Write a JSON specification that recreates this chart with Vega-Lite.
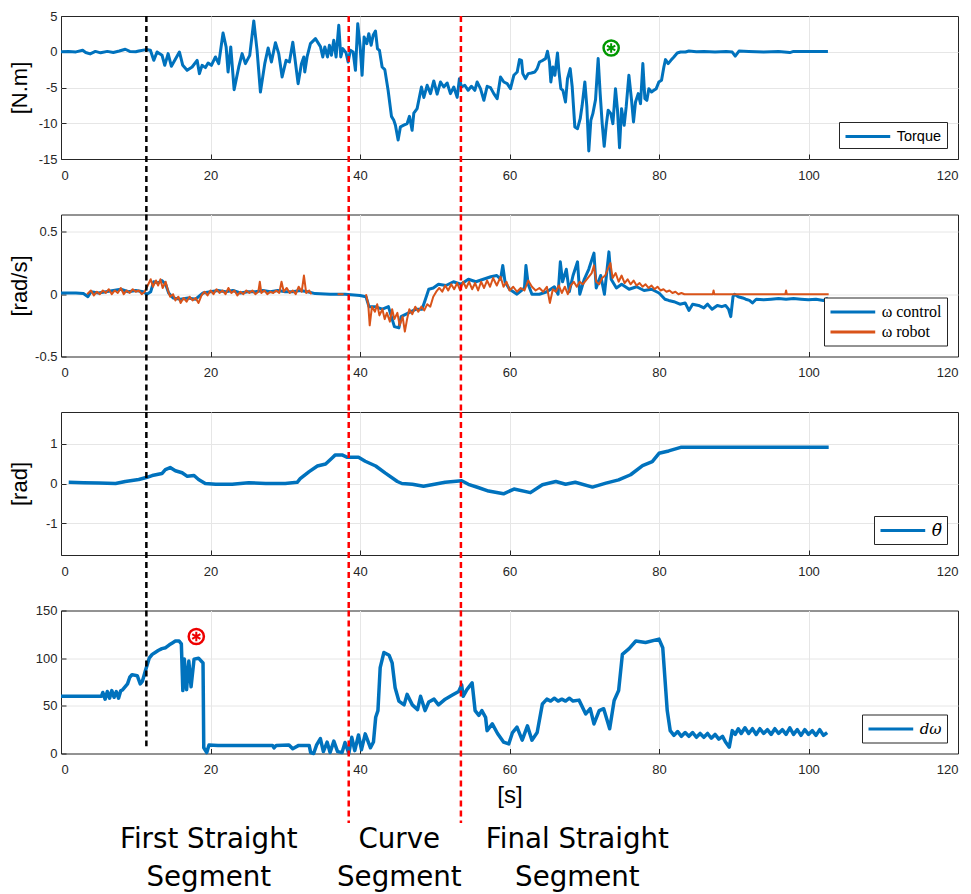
{
  "$schema": "https://vega.github.io/schema/vega-lite/v6.json",
  "padding": {"left": 7, "top": 9, "right": 0, "bottom": 0},
  "bounds": "flush",
  "spacing": 55.5,
  "resolve": {"scale": {"color": "independent"}, "legend": {"color": "independent"}},
  "config": {
    "view": {"stroke": "#262626", "strokeWidth": 1},
    "axis": {
      "labelFont": "Liberation Sans", "labelFontSize": 13, "labelColor": "#262626",
      "labelExpr": "'' + datum.value", "labelOverlap": false, "tickCount": 10,
      "titleFont": "Liberation Sans", "titleFontSize": 22, "titleFontWeight": "normal", "titleColor": "#000000",
      "grid": true, "gridColor": "#e6e6e6", "gridWidth": 1, "domain": false,
      "tickColor": "#262626", "tickSize": -5, "tickWidth": 1
    },
    "axisX": {"labelPadding": 15},
    "axisY": {"labelPadding": 9},
    "legend": {
      "orient": "bottom-right", "offset": 11, "strokeColor": "#262626", "fillColor": "white",
      "padding": 5, "labelFont": "Liberation Sans", "labelFontSize": 14.5, "labelColor": "#000000",
      "symbolType": "M-1,0H4.59", "symbolStrokeWidth": 3, "symbolSize": 256, "labelOffset": 33.7, "rowPadding": 2
    },
    "text": {"font": "DejaVu Sans"}
  },
  "datasets": {
    "torque": [
      {"t":0,"v":0},{"t":1,"v":0.02},{"t":2,"v":-0.02},{"t":2.9,"v":0.2},{"t":3.3,"v":-0.1},{"t":3.9,"v":-0.3},{"t":4.6,"v":0.05},{"t":5.3,"v":-0.15},{"t":6.2,"v":0.05},{"t":7,"v":-0.1},{"t":7.8,"v":0.1},{"t":8.6,"v":0.35},{"t":9.2,"v":0.05},{"t":10,"v":0},{"t":10.4,"v":0.11},{"t":11.38,"v":0.3},{"t":11.96,"v":0.2},{"t":12.41,"v":-1.2},{"t":12.85,"v":-0.03},{"t":13.52,"v":-0.5},{"t":13.88,"v":-1.9},{"t":14.33,"v":-0.26},{"t":14.77,"v":-2.04},{"t":15.22,"v":-1.2},{"t":15.84,"v":-0.03},{"t":16.29,"v":-1.9},{"t":16.87,"v":-2.6},{"t":17.54,"v":-2.13},{"t":18.21,"v":-1.2},{"t":18.52,"v":-3.06},{"t":18.87,"v":-1.9},{"t":19.32,"v":-2.22},{"t":19.68,"v":-1.57},{"t":20.12,"v":-1.9},{"t":20.66,"v":-0.73},{"t":21.1,"v":-1.66},{"t":21.68,"v":2.63},{"t":22.09,"v":0.67},{"t":22.35,"v":-2.83},{"t":22.71,"v":0.67},{"t":23.16,"v":-5.3},{"t":23.78,"v":-2.13},{"t":24.23,"v":-0.26},{"t":24.67,"v":-1.66},{"t":25.25,"v":-0.5},{"t":25.79,"v":4.31},{"t":26.23,"v":0.2},{"t":26.68,"v":-5.63},{"t":27.26,"v":-1.66},{"t":27.71,"v":0.53},{"t":28.15,"v":-1.43},{"t":28.69,"v":1.27},{"t":29.13,"v":-0.26},{"t":29.58,"v":-3.53},{"t":30.11,"v":-1.2},{"t":30.56,"v":-1.43},{"t":31.01,"v":1.32},{"t":31.27,"v":-0.73},{"t":31.72,"v":-4.46},{"t":32.17,"v":-1.66},{"t":32.48,"v":-0.73},{"t":32.61,"v":-2.83},{"t":32.92,"v":-0.73},{"t":33.37,"v":1.13},{"t":34.04,"v":1.83},{"t":34.71,"v":0.72},{"t":35.02,"v":-0.73},{"t":35.29,"v":0.67},{"t":35.65,"v":-0.73},{"t":35.91,"v":0.9},{"t":36.18,"v":-0.5},{"t":36.49,"v":1.6},{"t":36.8,"v":-0.73},{"t":37.16,"v":3.7},{"t":37.43,"v":-0.73},{"t":37.7,"v":0.44},{"t":38.14,"v":-0.17},{"t":38.41,"v":-1.43},{"t":38.72,"v":0.2},{"t":39.08,"v":-0.03},{"t":39.39,"v":-2.6},{"t":39.7,"v":3.93},{"t":40.02,"v":0.67},{"t":40.28,"v":-3.29},{"t":40.55,"v":2.07},{"t":40.91,"v":1.13},{"t":41.18,"v":2.53},{"t":41.49,"v":0.9},{"t":41.76,"v":2.3},{"t":42.07,"v":2.9},{"t":42.34,"v":0.4},{"t":42.6,"v":0.2},{"t":42.96,"v":-2.13},{"t":43.32,"v":-2.5},{"t":43.76,"v":-5.38},{"t":44.21,"v":-9.04},{"t":44.52,"v":-9.59},{"t":44.74,"v":-10.29},{"t":45.1,"v":-12.34},{"t":45.41,"v":-10.5},{"t":45.86,"v":-10.27},{"t":46.31,"v":-10.04},{"t":46.62,"v":-9.03},{"t":46.97,"v":-10.99},{"t":47.2,"v":-8.59},{"t":47.64,"v":-7.96},{"t":48.22,"v":-4.94},{"t":48.54,"v":-6.39},{"t":48.98,"v":-4.69},{"t":49.43,"v":-5.86},{"t":49.87,"v":-4.09},{"t":50.32,"v":-5.93},{"t":50.77,"v":-4.23},{"t":51.21,"v":-4.93},{"t":51.66,"v":-4.37},{"t":52.1,"v":-5.86},{"t":52.55,"v":-4.93},{"t":53.0,"v":-6.38},{"t":53.3,"v":-3.76},{"t":53.58,"v":-4.93},{"t":54.02,"v":-4.69},{"t":54.47,"v":-5.39},{"t":54.91,"v":-4.83},{"t":55.36,"v":-5.39},{"t":55.67,"v":-4.23},{"t":56.12,"v":-5.16},{"t":56.57,"v":-6.79},{"t":57.01,"v":-4.83},{"t":57.46,"v":-5.02},{"t":57.9,"v":-5.86},{"t":58.35,"v":-6.56},{"t":58.8,"v":-3.53},{"t":59.24,"v":-4.23},{"t":59.69,"v":-4.46},{"t":60.13,"v":-5.16},{"t":60.58,"v":-3.29},{"t":61.03,"v":-2.83},{"t":61.34,"v":-1.1},{"t":61.61,"v":-1.2},{"t":61.78,"v":-3.06},{"t":62.14,"v":-3.76},{"t":62.5,"v":-3.06},{"t":62.94,"v":-2.97},{"t":63.39,"v":-2.83},{"t":63.7,"v":-2.36},{"t":64.01,"v":-1.43},{"t":64.46,"v":-1.2},{"t":64.82,"v":-0.96},{"t":65.08,"v":0.06},{"t":65.35,"v":-1.43},{"t":65.53,"v":-4.23},{"t":65.8,"v":-2.13},{"t":66.07,"v":-3.29},{"t":66.42,"v":-0.17},{"t":66.6,"v":-2.6},{"t":66.87,"v":-5.16},{"t":67.14,"v":-5.39},{"t":67.49,"v":-7.02},{"t":67.76,"v":-3.76},{"t":68.12,"v":-2.36},{"t":68.39,"v":-4.93},{"t":68.74,"v":-10.52},{"t":69.1,"v":-10.75},{"t":69.46,"v":-9.36},{"t":69.72,"v":-7.49},{"t":70.08,"v":-4.23},{"t":70.35,"v":-7.72},{"t":70.61,"v":-13.88},{"t":70.88,"v":-9.59},{"t":71.15,"v":-8.66},{"t":71.51,"v":-6.7},{"t":71.86,"v":-0.96},{"t":72.13,"v":-5.86},{"t":72.4,"v":-10.05},{"t":72.67,"v":-13.22},{"t":72.94,"v":-10.29},{"t":73.2,"v":-8.19},{"t":73.56,"v":-8.66},{"t":73.83,"v":-10.05},{"t":74.18,"v":-5.16},{"t":74.45,"v":-8.19},{"t":74.72,"v":-13.41},{"t":74.99,"v":-7.96},{"t":75.34,"v":-10.29},{"t":75.61,"v":-7.72},{"t":75.97,"v":-3.29},{"t":76.33,"v":-6.79},{"t":76.59,"v":-9.82},{"t":76.86,"v":-7.02},{"t":77.22,"v":-5.86},{"t":77.53,"v":-7.26},{"t":77.84,"v":-1.66},{"t":78.11,"v":-6.56},{"t":78.38,"v":-6.79},{"t":78.64,"v":-5.16},{"t":79.0,"v":-5.62},{"t":79.31,"v":-5.39},{"t":79.63,"v":-5.16},{"t":79.98,"v":-4.23},{"t":80.34,"v":-3.99},{"t":80.65,"v":-2.13},{"t":80.87,"v":-1.1},{"t":81.23,"v":-1.66},{"t":81.59,"v":-1.2},{"t":81.99,"v":-0.73},{"t":82.44,"v":-0.17},{"t":82.88,"v":-0.03},{"t":83.55,"v":-0.03},{"t":84.0,"v":0.11},{"t":85,"v":0.0},{"t":86,"v":0.05},{"t":87.5,"v":-0.05},{"t":89,"v":0.05},{"t":89.8,"v":-0.05},{"t":90.2,"v":-0.6},{"t":90.7,"v":0.1},{"t":92,"v":0.05},{"t":94,"v":-0.05},{"t":96,"v":0.05},{"t":97.5,"v":-0.12},{"t":98,"v":0.05},{"t":100,"v":0.03},{"t":102.6,"v":0.05}
    ],
    "wcontrol": [
      {"t":0,"v":0.01},{"t":1,"v":0.01},{"t":2,"v":0.01},{"t":3,"v":0.005},{"t":3.6,"v":-0.02},{"t":4,"v":0.02},{"t":5,"v":0.01},{"t":6,"v":0.02},{"t":7,"v":0.03},{"t":8,"v":0.04},{"t":9,"v":0.02},{"t":10,"v":0.03},{"t":11,"v":0.02},{"t":11.5,"v":0.0},{"t":12,"v":0.02},{"t":12.4,"v":0.1},{"t":13,"v":0.09},{"t":13.5,"v":0.11},{"t":14,"v":0.08},{"t":14.4,"v":0.01},{"t":15,"v":-0.03},{"t":16,"v":-0.04},{"t":17,"v":-0.03},{"t":18,"v":-0.04},{"t":19,"v":0.01},{"t":20,"v":0.02},{"t":21,"v":0.03},{"t":22,"v":0.02},{"t":23,"v":0.03},{"t":24,"v":0.01},{"t":25,"v":0.02},{"t":26,"v":0.02},{"t":27,"v":0.03},{"t":28,"v":0.02},{"t":29,"v":0.03},{"t":30,"v":0.02},{"t":31,"v":0.02},{"t":32,"v":0.03},{"t":33,"v":0.02},{"t":34,"v":0.005},{"t":36,"v":0.0},{"t":38,"v":0.0},{"t":40,"v":-0.01},{"t":40.8,"v":-0.02},{"t":41.2,"v":-0.1},{"t":42,"v":-0.1},{"t":43,"v":-0.12},{"t":43.8,"v":-0.1},{"t":44.3,"v":-0.2},{"t":44.6,"v":-0.26},{"t":45.2,"v":-0.27},{"t":45.5,"v":-0.18},{"t":46.5,"v":-0.15},{"t":47.5,"v":-0.12},{"t":48.3,"v":-0.12},{"t":48.7,"v":-0.05},{"t":49.2,"v":0.04},{"t":49.8,"v":0.05},{"t":50.5,"v":0.08},{"t":51.5,"v":0.07},{"t":52.5,"v":0.1},{"t":53.5,"v":0.08},{"t":54.5,"v":0.12},{"t":55.5,"v":0.1},{"t":56.5,"v":0.12},{"t":57.5,"v":0.14},{"t":58.3,"v":0.15},{"t":58.8,"v":0.12},{"t":59.1,"v":0.23},{"t":59.4,"v":0.1},{"t":60,"v":0.04},{"t":61,"v":0.0},{"t":62,"v":0.05},{"t":62.2,"v":0.23},{"t":62.5,"v":0.08},{"t":63,"v":0.0},{"t":64,"v":0.0},{"t":65,"v":0.02},{"t":66,"v":0.06},{"t":66.5,"v":0.0},{"t":66.8,"v":0.26},{"t":67.1,"v":0.1},{"t":67.6,"v":0.2},{"t":68,"v":0.02},{"t":68.5,"v":0.15},{"t":69.1,"v":0.26},{"t":69.4,"v":0.0},{"t":70,"v":0.12},{"t":70.6,"v":0.2},{"t":71.3,"v":0.33},{"t":71.6,"v":0.05},{"t":72.2,"v":0.15},{"t":72.7,"v":0.0},{"t":73.3,"v":0.34},{"t":73.6,"v":0.12},{"t":74.3,"v":0.05},{"t":75,"v":0.08},{"t":76,"v":0.04},{"t":77,"v":0.06},{"t":78,"v":0.03},{"t":79,"v":0.04},{"t":80,"v":0.01},{"t":80.8,"v":-0.04},{"t":81.3,"v":-0.05},{"t":82,"v":-0.06},{"t":82.8,"v":-0.08},{"t":83.5,"v":-0.07},{"t":84,"v":-0.13},{"t":84.5,"v":-0.08},{"t":85.3,"v":-0.09},{"t":86,"v":-0.11},{"t":86.5,"v":-0.08},{"t":87.1,"v":-0.12},{"t":87.8,"v":-0.09},{"t":88.4,"v":-0.1},{"t":88.9,"v":-0.09},{"t":89.3,"v":-0.12},{"t":89.6,"v":-0.18},{"t":89.9,"v":-0.02},{"t":90.1,"v":0.0},{"t":90.6,"v":-0.02},{"t":91.2,"v":-0.03},{"t":91.6,"v":-0.04},{"t":92.1,"v":-0.05},{"t":92.5,"v":-0.07},{"t":93,"v":-0.04},{"t":94,"v":-0.045},{"t":95,"v":-0.04},{"t":96,"v":-0.035},{"t":97,"v":-0.04},{"t":98,"v":-0.035},{"t":99,"v":-0.04},{"t":100,"v":-0.045},{"t":101,"v":-0.04},{"t":102,"v":-0.05},{"t":102.6,"v":-0.03}
    ],
    "wrobot": [
      {"s":"a","t":3.5,"v":0.0},{"s":"a","t":4,"v":0.03},{"s":"a","t":4.4,"v":-0.01},{"s":"a","t":4.8,"v":0.02},{"s":"a","t":5.2,"v":0.0},{"s":"a","t":5.6,"v":0.03},{"s":"a","t":6,"v":0.01},{"s":"a","t":6.4,"v":0.04},{"s":"a","t":6.8,"v":0.0},{"s":"a","t":7.2,"v":0.03},{"s":"a","t":7.6,"v":0.01},{"s":"a","t":8,"v":0.05},{"s":"a","t":8.4,"v":0.0},{"s":"a","t":8.8,"v":0.03},{"s":"a","t":9.2,"v":0.01},{"s":"a","t":9.6,"v":0.04},{"s":"a","t":10,"v":0.02},{"s":"a","t":10.4,"v":0.03},{"s":"a","t":10.8,"v":0.0},{"s":"a","t":11.2,"v":0.02},{"s":"a","t":11.6,"v":0.07},{"s":"a","t":12,"v":0.12},{"s":"a","t":12.3,"v":0.06},{"s":"a","t":12.7,"v":0.11},{"s":"a","t":13,"v":0.07},{"s":"a","t":13.3,"v":0.12},{"s":"a","t":13.6,"v":0.05},{"s":"a","t":14,"v":0.1},{"s":"a","t":14.3,"v":0.03},{"s":"a","t":14.6,"v":-0.02},{"s":"a","t":15,"v":0.0},{"s":"a","t":15.3,"v":-0.05},{"s":"a","t":15.7,"v":-0.02},{"s":"a","t":16,"v":-0.07},{"s":"a","t":16.4,"v":-0.03},{"s":"a","t":16.8,"v":-0.06},{"s":"a","t":17.2,"v":-0.02},{"s":"a","t":17.6,"v":-0.05},{"s":"a","t":18,"v":-0.03},{"s":"a","t":18.4,"v":-0.07},{"s":"a","t":18.8,"v":-0.01},{"s":"a","t":19.2,"v":0.02},{"s":"a","t":19.6,"v":-0.01},{"s":"a","t":20,"v":0.03},{"s":"a","t":20.4,"v":0.0},{"s":"a","t":20.8,"v":0.04},{"s":"a","t":21.2,"v":0.01},{"s":"a","t":21.6,"v":0.03},{"s":"a","t":22,"v":0.0},{"s":"a","t":22.4,"v":0.05},{"s":"a","t":22.8,"v":0.01},{"s":"a","t":23.2,"v":0.03},{"s":"a","t":23.6,"v":-0.01},{"s":"a","t":24,"v":0.02},{"s":"a","t":24.4,"v":0.0},{"s":"a","t":24.8,"v":0.03},{"s":"a","t":25.2,"v":0.01},{"s":"a","t":25.6,"v":0.03},{"s":"a","t":26,"v":0.0},{"s":"a","t":26.4,"v":0.02},{"s":"a","t":26.6,"v":0.1},{"s":"a","t":26.8,"v":0.01},{"s":"a","t":27.2,"v":0.03},{"s":"a","t":27.6,"v":0.0},{"s":"a","t":28,"v":0.02},{"s":"a","t":28.4,"v":0.01},{"s":"a","t":28.8,"v":0.03},{"s":"a","t":29.2,"v":0.01},{"s":"a","t":29.5,"v":0.1},{"s":"a","t":29.8,"v":0.02},{"s":"a","t":30.2,"v":0.05},{"s":"a","t":30.6,"v":0.01},{"s":"a","t":31,"v":0.03},{"s":"a","t":31.4,"v":0.0},{"s":"a","t":31.8,"v":0.06},{"s":"a","t":32.2,"v":0.02},{"s":"a","t":32.5,"v":0.15},{"s":"a","t":32.8,"v":0.01},{"s":"a","t":33.2,"v":0.03},{"s":"a","t":33.5,"v":0.0},
      {"s":"b","t":37.0,"v":0.0},{"s":"b","t":37.8,"v":0.0},
      {"s":"c","t":40.8,"v":0.0},{"s":"c","t":41.1,"v":-0.08},{"s":"c","t":41.3,"v":-0.25},{"s":"c","t":41.6,"v":-0.1},{"s":"c","t":42,"v":-0.14},{"s":"c","t":42.3,"v":-0.08},{"s":"c","t":42.6,"v":-0.17},{"s":"c","t":43,"v":-0.12},{"s":"c","t":43.3,"v":-0.2},{"s":"c","t":43.6,"v":-0.15},{"s":"c","t":44,"v":-0.22},{"s":"c","t":44.3,"v":-0.12},{"s":"c","t":44.6,"v":-0.2},{"s":"c","t":45,"v":-0.15},{"s":"c","t":45.3,"v":-0.25},{"s":"c","t":45.7,"v":-0.18},{"s":"c","t":46,"v":-0.3},{"s":"c","t":46.3,"v":-0.2},{"s":"c","t":46.6,"v":-0.12},{"s":"c","t":47,"v":-0.16},{"s":"c","t":47.4,"v":-0.1},{"s":"c","t":47.8,"v":-0.14},{"s":"c","t":48.2,"v":-0.1},{"s":"c","t":48.6,"v":-0.13},{"s":"c","t":49,"v":-0.08},{"s":"c","t":49.4,"v":-0.1},{"s":"c","t":49.8,"v":-0.02},{"s":"c","t":50.2,"v":0.02},{"s":"c","t":50.6,"v":0.05},{"s":"c","t":51,"v":0.02},{"s":"c","t":51.4,"v":0.07},{"s":"c","t":51.8,"v":0.03},{"s":"c","t":52.2,"v":0.08},{"s":"c","t":52.6,"v":0.04},{"s":"c","t":53,"v":0.09},{"s":"c","t":53.4,"v":0.03},{"s":"c","t":53.8,"v":0.1},{"s":"c","t":54.2,"v":0.05},{"s":"c","t":54.6,"v":0.1},{"s":"c","t":55,"v":0.04},{"s":"c","t":55.4,"v":0.09},{"s":"c","t":55.8,"v":0.03},{"s":"c","t":56.2,"v":0.1},{"s":"c","t":56.6,"v":0.05},{"s":"c","t":57,"v":0.11},{"s":"c","t":57.4,"v":0.06},{"s":"c","t":57.8,"v":0.13},{"s":"c","t":58.3,"v":0.07},{"s":"c","t":58.8,"v":0.14},{"s":"c","t":59.2,"v":0.06},{"s":"c","t":59.6,"v":0.1},{"s":"c","t":60,"v":0.03},{"s":"c","t":60.5,"v":0.06},{"s":"c","t":61,"v":0.02},{"s":"c","t":61.5,"v":0.05},{"s":"c","t":62,"v":0.03},{"s":"c","t":62.5,"v":0.11},{"s":"c","t":63,"v":0.06},{"s":"c","t":63.5,"v":0.03},{"s":"c","t":64,"v":0.05},{"s":"c","t":64.5,"v":0.02},{"s":"c","t":65,"v":0.06},{"s":"c","t":65.4,"v":-0.07},{"s":"c","t":65.8,"v":0.04},{"s":"c","t":66.2,"v":0.02},{"s":"c","t":66.6,"v":0.07},{"s":"c","t":67,"v":0.01},{"s":"c","t":67.4,"v":0.06},{"s":"c","t":67.8,"v":0.0},{"s":"c","t":68.2,"v":0.07},{"s":"c","t":68.6,"v":0.1},{"s":"c","t":69,"v":0.06},{"s":"c","t":69.4,"v":0.1},{"s":"c","t":69.8,"v":0.08},{"s":"c","t":70.2,"v":0.11},{"s":"c","t":70.6,"v":0.14},{"s":"c","t":71,"v":0.17},{"s":"c","t":71.3,"v":0.23},{"s":"c","t":71.6,"v":0.1},{"s":"c","t":72,"v":0.08},{"s":"c","t":72.4,"v":0.13},{"s":"c","t":72.8,"v":0.15},{"s":"c","t":73.2,"v":0.21},{"s":"c","t":73.5,"v":0.25},{"s":"c","t":73.8,"v":0.13},{"s":"c","t":74.2,"v":0.17},{"s":"c","t":74.6,"v":0.1},{"s":"c","t":75,"v":0.15},{"s":"c","t":75.4,"v":0.09},{"s":"c","t":75.8,"v":0.12},{"s":"c","t":76.2,"v":0.08},{"s":"c","t":76.6,"v":0.11},{"s":"c","t":77,"v":0.07},{"s":"c","t":77.4,"v":0.09},{"s":"c","t":77.8,"v":0.06},{"s":"c","t":78.2,"v":0.08},{"s":"c","t":78.6,"v":0.05},{"s":"c","t":79,"v":0.07},{"s":"c","t":79.4,"v":0.04},{"s":"c","t":79.8,"v":0.06},{"s":"c","t":80.2,"v":0.03},{"s":"c","t":80.6,"v":0.04},{"s":"c","t":81,"v":0.02},{"s":"c","t":81.4,"v":0.03},{"s":"c","t":81.8,"v":0.01},{"s":"c","t":82.2,"v":0.02},{"s":"c","t":82.6,"v":0.0},{"s":"c","t":83,"v":0.01},{"s":"c","t":83.4,"v":0.0},{"s":"c","t":87.2,"v":0.0},{"s":"c","t":87.3,"v":0.03},{"s":"c","t":87.4,"v":0.0},{"s":"c","t":96.9,"v":0.0},{"s":"c","t":97,"v":0.03},{"s":"c","t":97.1,"v":0.0},{"s":"c","t":102.7,"v":0.0}
    ],
    "theta": [
      {"t":1.03,"v":0.03},{"t":3,"v":0.02},{"t":5.05,"v":0.01},{"t":7.3,"v":0.0},{"t":8.6,"v":0.05},{"t":10.4,"v":0.1},{"t":11.4,"v":0.15},{"t":12.2,"v":0.2},{"t":13.5,"v":0.25},{"t":13.96,"v":0.35},{"t":14.6,"v":0.4},{"t":15.3,"v":0.32},{"t":16.2,"v":0.27},{"t":16.9,"v":0.18},{"t":17.8,"v":0.2},{"t":18.4,"v":0.1},{"t":19.3,"v":0.0},{"t":20.7,"v":-0.02},{"t":22.9,"v":-0.02},{"t":25.1,"v":0.02},{"t":27.4,"v":0.0},{"t":30,"v":0.0},{"t":31.6,"v":0.03},{"t":32.0,"v":0.12},{"t":33.2,"v":0.3},{"t":34.3,"v":0.44},{"t":35.4,"v":0.49},{"t":36.3,"v":0.65},{"t":36.7,"v":0.72},{"t":37.6,"v":0.72},{"t":38.3,"v":0.66},{"t":39.8,"v":0.66},{"t":40.7,"v":0.56},{"t":42.1,"v":0.44},{"t":43.4,"v":0.26},{"t":45.0,"v":0.05},{"t":45.6,"v":0.0},{"t":47.0,"v":-0.02},{"t":48.5,"v":-0.07},{"t":49.6,"v":-0.03},{"t":51.4,"v":0.03},{"t":53.6,"v":0.07},{"t":54.5,"v":-0.02},{"t":55.8,"v":-0.1},{"t":57.2,"v":-0.19},{"t":59.2,"v":-0.26},{"t":60.6,"v":-0.14},{"t":62.8,"v":-0.23},{"t":64.4,"v":-0.03},{"t":66.2,"v":0.05},{"t":67.5,"v":-0.02},{"t":68.8,"v":0.03},{"t":71.1,"v":-0.09},{"t":72.9,"v":0.01},{"t":74.6,"v":0.09},{"t":76.2,"v":0.22},{"t":77.8,"v":0.45},{"t":79.1,"v":0.55},{"t":80.0,"v":0.76},{"t":81.3,"v":0.82},{"t":82.9,"v":0.91},{"t":102.7,"v":0.91}
    ],
    "dw": [
      {"t":0,"v":60},{"t":5.4,"v":60},{"t":5.6,"v":64},{"t":5.9,"v":57},{"t":6.2,"v":65},{"t":6.5,"v":58},{"t":6.8,"v":66},{"t":7.1,"v":59},{"t":7.4,"v":65},{"t":7.7,"v":58},{"t":8.0,"v":66},{"t":8.2,"v":66.5},{"t":8.9,"v":73},{"t":9.2,"v":80},{"t":9.5,"v":82.7},{"t":10.2,"v":81.6},{"t":10.6,"v":73},{"t":10.9,"v":76},{"t":11.3,"v":87},{"t":11.8,"v":100},{"t":12.2,"v":104},{"t":12.6,"v":106},{"t":13.0,"v":108},{"t":13.5,"v":110},{"t":14,"v":111},{"t":14.5,"v":114},{"t":14.9,"v":116},{"t":15.3,"v":118},{"t":15.8,"v":118},{"t":16.1,"v":115},{"t":16.3,"v":66},{"t":16.5,"v":99},{"t":16.8,"v":67},{"t":17.1,"v":97},{"t":17.4,"v":70},{"t":17.8,"v":99},{"t":18.4,"v":100},{"t":19.0,"v":95},{"t":19.1,"v":6},{"t":19.5,"v":1},{"t":19.8,"v":9},{"t":21,"v":8.5},{"t":28.3,"v":8.5},{"t":28.5,"v":5.8},{"t":28.8,"v":8.5},{"t":30.5,"v":9},{"t":31,"v":5},{"t":31.8,"v":8.5},{"t":33.2,"v":8.5},{"t":33.4,"v":1},{"t":33.8,"v":0},{"t":34.2,"v":9},{"t":34.7,"v":15.7},{"t":35.1,"v":2},{"t":35.6,"v":12},{"t":36,"v":1},{"t":36.5,"v":13},{"t":37,"v":2},{"t":37.6,"v":1},{"t":38,"v":11.5},{"t":38.5,"v":0},{"t":38.9,"v":17},{"t":39.3,"v":3},{"t":39.8,"v":19.5},{"t":40.2,"v":4},{"t":40.7,"v":20.6},{"t":41.4,"v":6},{"t":41.8,"v":12},{"t":42.1,"v":38},{"t":42.4,"v":45},{"t":42.7,"v":90},{"t":43.2,"v":106},{"t":43.9,"v":103},{"t":44.3,"v":95},{"t":44.7,"v":69},{"t":45.2,"v":55},{"t":45.9,"v":51},{"t":46.3,"v":62},{"t":47.0,"v":51},{"t":47.7,"v":46},{"t":48.1,"v":60},{"t":48.7,"v":45},{"t":49.2,"v":54},{"t":49.9,"v":57},{"t":50.5,"v":51},{"t":51.4,"v":57},{"t":52.3,"v":61},{"t":53.2,"v":65},{"t":53.6,"v":72},{"t":53.8,"v":60},{"t":54.3,"v":67},{"t":55.0,"v":74},{"t":55.4,"v":45},{"t":55.9,"v":40},{"t":56.3,"v":45},{"t":56.8,"v":38},{"t":57.0,"v":24},{"t":57.7,"v":31},{"t":58.4,"v":21},{"t":59.2,"v":12},{"t":59.9,"v":10},{"t":60.4,"v":22},{"t":61.0,"v":27.6},{"t":61.7,"v":14},{"t":62.4,"v":29},{"t":63.0,"v":14},{"t":63.7,"v":22},{"t":64.4,"v":52},{"t":65.0,"v":57},{"t":65.5,"v":55},{"t":66,"v":58},{"t":66.5,"v":55},{"t":67.0,"v":57},{"t":67.5,"v":55},{"t":68,"v":58},{"t":68.5,"v":55},{"t":69.3,"v":56},{"t":70.2,"v":41.5},{"t":70.8,"v":47},{"t":71.3,"v":31},{"t":72.0,"v":45},{"t":72.6,"v":47},{"t":73.4,"v":26},{"t":74.0,"v":55.5},{"t":74.6,"v":66},{"t":75.1,"v":104},{"t":76.0,"v":110},{"t":76.9,"v":118},{"t":78.2,"v":116.5},{"t":80.0,"v":120},{"t":80.5,"v":111},{"t":81.1,"v":45},{"t":81.5,"v":24},{"t":82,"v":19},{"t":82.5,"v":23},{"t":83,"v":18},{"t":83.5,"v":22},{"t":84,"v":18},{"t":84.5,"v":22},{"t":85,"v":17},{"t":85.5,"v":21},{"t":86,"v":17},{"t":86.5,"v":21},{"t":87,"v":16},{"t":87.5,"v":20},{"t":88,"v":15},{"t":88.5,"v":18},{"t":88.9,"v":12},{"t":89.4,"v":6.6},{"t":89.8,"v":24},{"t":90.2,"v":20},{"t":90.6,"v":26},{"t":91,"v":21},{"t":91.5,"v":27},{"t":92,"v":21},{"t":92.5,"v":26},{"t":93,"v":20},{"t":93.5,"v":26},{"t":94,"v":21},{"t":94.5,"v":25},{"t":95,"v":20},{"t":95.5,"v":26},{"t":96,"v":21},{"t":96.5,"v":25},{"t":97,"v":20},{"t":97.5,"v":27},{"t":98,"v":20},{"t":98.5,"v":25},{"t":99,"v":19},{"t":99.5,"v":25},{"t":100,"v":20},{"t":100.5,"v":24},{"t":101,"v":19},{"t":101.5,"v":25},{"t":102,"v":19},{"t":102.5,"v":22}
    ],
    "blackline": [{"t": 11.42}],
    "redlines": [{"t": 38.49}, {"t": 53.5}],
    "segments": [
      {"t": 19.77, "label": "First Straight\nSegment"},
      {"t": 45.26, "label": "Curve\nSegment"},
      {"t": 69.08, "label": "Final Straight\nSegment"}
    ],
    "mark1": [{"t": 73.6, "v": 0.52}],
    "mark4": [{"t": 18.1, "v": 122.7}]
  },
  "vconcat": [
    {
      "width": 897, "height": 143,
      "layer": [
        {
          "data": {"name": "torque"},
          "mark": {"type": "line", "strokeWidth": 3, "strokeJoin": "round"},
          "encoding": {
            "x": {"field": "t", "type": "quantitative", "scale": {"domain": [0, 120], "nice": false}, "axis": {"values": [0, 20, 40, 60, 80, 100, 120], "title": null, "gridOpacity": {"condition": {"test": "datum.value === 0 || datum.value === 120", "value": 0}, "value": 1}}},
            "y": {"field": "v", "type": "quantitative", "scale": {"domain": [-15, 5], "nice": false}, "axis": {"values": [-15, -10, -5, 0, 5], "tickCount": 10, "title": "[N.m]", "titlePadding": 7, "gridOpacity": {"condition": {"test": "datum.value === 5 || datum.value === -15", "value": 0}, "value": 1}}},
            "color": {"datum": "Torque", "scale": {"domain": ["Torque"], "range": ["#0072BD"]}, "legend": {"title": null}}
          }
        },
        {
          "data": {"name": "blackline"},
          "mark": {"type": "rule", "color": "#000000", "strokeWidth": 2.5, "strokeDash": [6, 4]},
          "encoding": {
            "x": {"field": "t", "type": "quantitative"},
            "y": {"datum": 5, "type": "quantitative"},
            "y2": {"datum": -22.76}
          }
        },
        {
          "data": {"name": "redlines"},
          "mark": {"type": "rule", "color": "#FF0000", "strokeWidth": 2.5, "strokeDash": [6, 4]},
          "encoding": {
            "x": {"field": "t", "type": "quantitative"},
            "y": {"datum": 5, "type": "quantitative"},
            "y2": {"datum": -22.76}
          }
        },
        {
          "data": {"name": "mark1"},
          "mark": {"type": "point", "shape": "circle", "filled": false, "size": 230, "strokeWidth": 2.5, "color": "#009900", "opacity": 1},
          "encoding": {"x": {"field": "t", "type": "quantitative"}, "y": {"field": "v", "type": "quantitative"}}
        },
        {
          "data": {"name": "mark1"},
          "mark": {"type": "point", "shape": "M0,-1L0,1M-0.866,-0.5L0.866,0.5M-0.866,0.5L0.866,-0.5", "filled": false, "size": 90, "strokeWidth": 2, "color": "#009900", "opacity": 1},
          "encoding": {"x": {"field": "t", "type": "quantitative"}, "y": {"field": "v", "type": "quantitative"}}
        }
      ]
    },
    {
      "width": 897, "height": 142,
      "layer": [
        {
          "data": {"name": "wcontrol"},
          "mark": {"type": "line", "strokeWidth": 3, "strokeJoin": "round"},
          "encoding": {
            "x": {"field": "t", "type": "quantitative", "scale": {"domain": [0, 120], "nice": false}, "axis": {"values": [0, 20, 40, 60, 80, 100, 120], "title": null, "gridOpacity": {"condition": {"test": "datum.value === 0 || datum.value === 120", "value": 0}, "value": 1}}},
            "y": {"field": "v", "type": "quantitative", "scale": {"domain": [-0.5, 0.64], "nice": false}, "axis": {"values": [-0.5, 0, 0.5], "title": "[rad/s]", "titlePadding": 3, "gridOpacity": {"condition": {"test": "datum.value === -0.5", "value": 0}, "value": 1}}},
            "color": {"datum": "ω control", "scale": {"domain": ["ω control", "ω robot"], "range": ["#0072BD", "#D95319"]}, "legend": {"title": null, "labelFont": "Liberation Serif", "labelFontSize": 16}}
          }
        },
        {
          "data": {"name": "wrobot"},
          "mark": {"type": "line", "strokeWidth": 2, "strokeJoin": "round"},
          "encoding": {
            "x": {"field": "t", "type": "quantitative"},
            "y": {"field": "v", "type": "quantitative"},
            "detail": {"field": "s", "type": "nominal"},
            "color": {"datum": "ω robot"}
          }
        },
        {
          "data": {"name": "blackline"},
          "mark": {"type": "rule", "color": "#000000", "strokeWidth": 2.5, "strokeDash": [6, 4]},
          "encoding": {
            "x": {"field": "t", "type": "quantitative"},
            "y": {"datum": 0.64, "type": "quantitative"},
            "y2": {"datum": -0.9456}
          }
        },
        {
          "data": {"name": "redlines"},
          "mark": {"type": "rule", "color": "#FF0000", "strokeWidth": 2.5, "strokeDash": [6, 4]},
          "encoding": {
            "x": {"field": "t", "type": "quantitative"},
            "y": {"datum": 0.64, "type": "quantitative"},
            "y2": {"datum": -0.9456}
          }
        }
      ]
    },
    {
      "width": 897, "height": 143,
      "layer": [
        {
          "data": {"name": "theta"},
          "mark": {"type": "line", "strokeWidth": 3.5, "strokeJoin": "round"},
          "encoding": {
            "x": {"field": "t", "type": "quantitative", "scale": {"domain": [0, 120], "nice": false}, "axis": {"values": [0, 20, 40, 60, 80, 100, 120], "title": null, "gridOpacity": {"condition": {"test": "datum.value === 0 || datum.value === 120", "value": 0}, "value": 1}}},
            "y": {"field": "v", "type": "quantitative", "scale": {"domain": [-1.8, 1.8], "nice": false}, "axis": {"values": [-1, 0, 1], "title": "[rad]", "titlePadding": 14}},
            "color": {"datum": "θ̃", "scale": {"domain": ["θ̃"], "range": ["#0072BD"]}, "legend": {"title": null, "labelFont": "DejaVu Serif", "labelFontSize": 17, "labelFontStyle": "italic"}}
          }
        },
        {
          "data": {"name": "blackline"},
          "mark": {"type": "rule", "color": "#000000", "strokeWidth": 2.5, "strokeDash": [6, 4]},
          "encoding": {
            "x": {"field": "t", "type": "quantitative"},
            "y": {"datum": 1.8, "type": "quantitative"},
            "y2": {"datum": -3.197}
          }
        },
        {
          "data": {"name": "redlines"},
          "mark": {"type": "rule", "color": "#FF0000", "strokeWidth": 2.5, "strokeDash": [6, 4]},
          "encoding": {
            "x": {"field": "t", "type": "quantitative"},
            "y": {"datum": 1.8, "type": "quantitative"},
            "y2": {"datum": -3.197}
          }
        }
      ]
    },
    {
      "width": 897, "height": 143,
      "layer": [
        {
          "data": {"name": "dw"},
          "mark": {"type": "line", "strokeWidth": 3.5, "strokeJoin": "round"},
          "encoding": {
            "x": {"field": "t", "type": "quantitative", "scale": {"domain": [0, 120], "nice": false}, "axis": {"values": [0, 20, 40, 60, 80, 100, 120], "title": "[s]", "titleFontSize": 24, "titlePadding": 7, "gridOpacity": {"condition": {"test": "datum.value === 0 || datum.value === 120", "value": 0}, "value": 1}}},
            "y": {"field": "v", "type": "quantitative", "scale": {"domain": [0, 150], "nice": false}, "axis": {"values": [0, 50, 100, 150], "title": null, "gridOpacity": {"condition": {"test": "datum.value === 0 || datum.value === 150", "value": 0}, "value": 1}}},
            "color": {"datum": "dω", "scale": {"domain": ["dω"], "range": ["#0072BD"]}, "legend": {"title": null, "labelFont": "DejaVu Serif", "labelFontSize": 15, "labelFontStyle": "italic"}}
          }
        },
        {
          "data": {"name": "blackline"},
          "mark": {"type": "rule", "color": "#000000", "strokeWidth": 2.5, "strokeDash": [6, 4]},
          "encoding": {
            "x": {"field": "t", "type": "quantitative"},
            "y": {"datum": 150, "type": "quantitative"},
            "y2": {"datum": 7.66}
          }
        },
        {
          "data": {"name": "redlines"},
          "mark": {"type": "rule", "color": "#FF0000", "strokeWidth": 2.5, "strokeDash": [6, 4]},
          "encoding": {
            "x": {"field": "t", "type": "quantitative"},
            "y": {"datum": 150, "type": "quantitative"},
            "y2": {"datum": -72.9}
          }
        },
        {
          "data": {"name": "mark4"},
          "mark": {"type": "point", "shape": "circle", "filled": false, "size": 230, "strokeWidth": 2.5, "color": "#EE0000", "opacity": 1},
          "encoding": {"x": {"field": "t", "type": "quantitative"}, "y": {"field": "v", "type": "quantitative"}}
        },
        {
          "data": {"name": "mark4"},
          "mark": {"type": "point", "shape": "M0,-1L0,1M-0.866,-0.5L0.866,0.5M-0.866,0.5L0.866,-0.5", "filled": false, "size": 90, "strokeWidth": 2, "color": "#EE0000", "opacity": 1},
          "encoding": {"x": {"field": "t", "type": "quantitative"}, "y": {"field": "v", "type": "quantitative"}}
        },
        {
          "data": {"name": "segments"},
          "mark": {"type": "text", "font": "DejaVu Sans", "fontSize": 27.7, "color": "#000000", "align": "center", "baseline": "alphabetic", "lineBreak": "\n", "lineHeight": 38},
          "encoding": {
            "x": {"field": "t", "type": "quantitative"},
            "y": {"datum": -99.5, "type": "quantitative"},
            "text": {"field": "label"}
          }
        }
      ]
    }
  ]
}
